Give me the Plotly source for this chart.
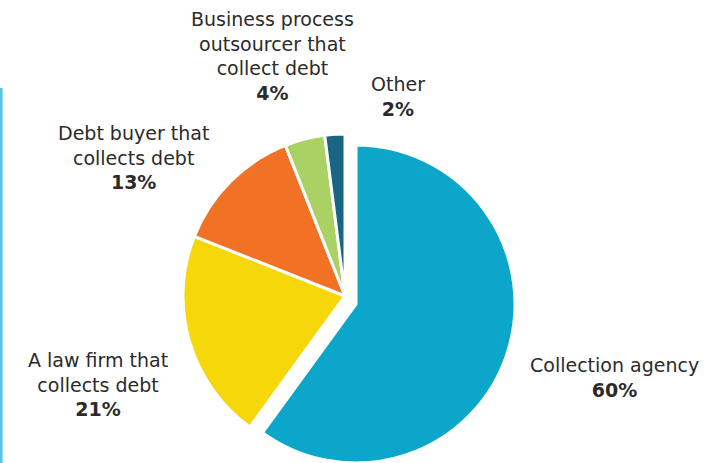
import plotly.graph_objects as go

# Who collects the debt: share of respondents by collector type
categories = [
    "Collection agency",
    "A law firm that<br>collects debt",
    "Debt buyer that<br>collects debt",
    "Business process<br>outsourcer that<br>collect debt",
    "Other",
]
shares = [60, 21, 13, 4, 2]
colors = ["#0ba6c9", "#f6d70a", "#f17125", "#a9d163", "#1a6584"]

# label block centres (pixels from the left / top of the figure)
label_cx = [614, 98, 133, 272, 398]
label_cy = [377, 384, 157, 56, 96]

W, H = 723, 463
CLEAR = "rgba(0,0,0,0)"

# the leading slice is drawn as its own pie, offset from the rest so it
# stands out; the remaining slices share the main pie
main_colors = [CLEAR] + colors[1:]
lead_colors = [colors[0]] + [CLEAR] * (len(shares) - 1)

common = dict(
    labels=categories,
    values=shares,
    sort=False,
    direction="clockwise",
    rotation=0,
    textinfo="none",
    hoverinfo="label+percent",
    showlegend=False,
)

fig = go.Figure()
fig.add_trace(go.Pie(
    **common,
    marker=dict(colors=main_colors,
                line=dict(color="white", width=[0, 3, 3, 3, 3])),
    domain=dict(x=[0.20, 0.7544], y=[0.0108, 0.7106]),
))
fig.add_trace(go.Pie(
    **common,
    marker=dict(colors=lead_colors,
                line=dict(color="white", width=[3, 0, 0, 0, 0])),
    domain=dict(x=[0.22, 0.7648], y=[0.0, 0.6868]),
))

# each label: category name with the bold share underneath
font = dict(family="DejaVu Sans, sans-serif", size=19, color="#2b2b2b")
for name, val, cx, cy in zip(categories, shares, label_cx, label_cy):
    fig.add_annotation(
        x=cx / W, y=1 - cy / H, xref="paper", yref="paper",
        text=f"{name}<br><b>{val}%</b>",
        showarrow=False, align="center",
        xanchor="center", yanchor="middle",
        font=font,
    )

# thin accent rule down the left edge
fig.add_shape(
    type="line", xref="paper", yref="paper",
    x0=0.0015, x1=0.0015, y0=0, y1=(H - 88) / H,
    line=dict(color="#55c3e6", width=3),
)

fig.update_layout(
    width=W, height=H,
    margin=dict(l=0, r=0, t=0, b=0),
    paper_bgcolor="white", plot_bgcolor="white",
)

fig.write_html("out.html")
